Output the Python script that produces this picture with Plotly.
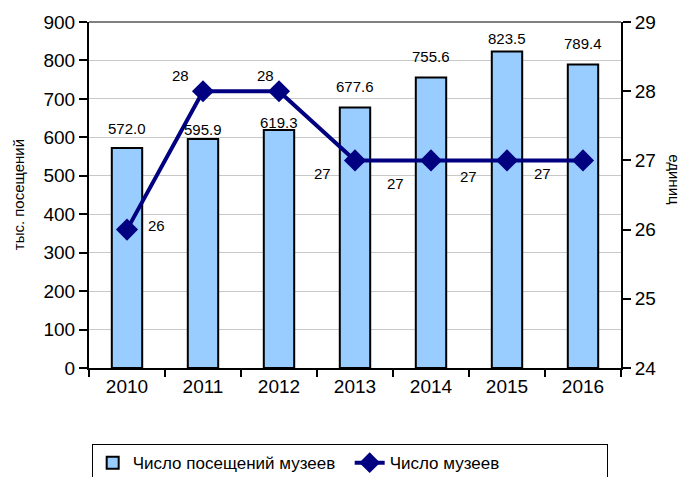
import plotly.graph_objects as go

years = ["2010", "2011", "2012", "2013", "2014", "2015", "2016"]
visits = [572.0, 595.9, 619.3, 677.6, 755.6, 823.5, 789.4]
museums = [26, 28, 28, 27, 27, 27, 27]

visits_name = "Число посещений музеев"
museums_name = "Число музеев"
left_title = "тыс. посещений"
right_title = "единиц"

# label offsets (pixels) - styling only
bar_label_shift = [20, 9, 7, 21, 21, 13, 21]
line_label_dx = [29, -23, -14, -33, -36, -39, -41]
line_label_dy = [-4, -16, -16, 13, 23, 16, 13]

FONT = "Liberation Sans, Arial, sans-serif"

fig = go.Figure()
fig.add_trace(go.Bar(
    x=years, y=visits, name=visits_name, yaxis="y",
    marker=dict(color="#99CCFF", line=dict(color="black", width=2)),
    width=0.4,
))
fig.add_trace(go.Scatter(
    x=years, y=museums, name=museums_name, yaxis="y2",
    mode="lines+markers",
    line=dict(color="#000080", width=4),
    marker=dict(symbol="diamond", size=17, color="#000080"),
))

annotations = []
for i, (v, s) in enumerate(zip(visits, bar_label_shift)):
    annotations.append(dict(x=i, y=v, xref="x", yref="y", text=f"{v:.1f}",
                            showarrow=False, yanchor="middle", yshift=s,
                            font=dict(family=FONT, size=15, color="black")))
for i, (m, dx, dy) in enumerate(zip(museums, line_label_dx, line_label_dy)):
    annotations.append(dict(x=i, y=m, xref="x", yref="y2", text=str(m),
                            showarrow=False, xshift=dx, yshift=-dy,
                            font=dict(family=FONT, size=15, color="black")))
annotations.append(dict(x=-0.133, y=0.5, xref="paper", yref="paper", text=left_title,
                        showarrow=False, textangle=-90, xanchor="center", yanchor="middle",
                        font=dict(family=FONT, size=15, color="black")))
annotations.append(dict(x=1.1, y=0.545, xref="paper", yref="paper", text=right_title,
                        showarrow=False, textangle=90, xanchor="center", yanchor="middle",
                        font=dict(family=FONT, size=15, color="black")))

fig.update_layout(
    width=677, height=469,
    margin=dict(l=81, r=64, t=14, b=109, autoexpand=False),
    paper_bgcolor="white", plot_bgcolor="white",
    font=dict(family=FONT, size=18, color="black"),
    showlegend=True,
    legend=dict(orientation="h", x=0.49, xanchor="center", y=-0.275, yanchor="middle",
                bordercolor="black", borderwidth=1, font=dict(size=17),
                entrywidth=212, traceorder="normal"),
    xaxis=dict(type="category", range=[-0.5, 6.5], showline=True, linecolor="black", linewidth=2,
               ticks="outside", ticklen=7, tickwidth=2, tickcolor="black",
               tickson="boundaries", showgrid=False, tickangle=0,
               tickfont=dict(size=19)),
    yaxis=dict(range=[0, 900], dtick=100, showline=True, linecolor="black", linewidth=2,
               ticks="outside", ticklen=8, tickwidth=2, tickcolor="black",
               showgrid=True, gridcolor="#C8C8C8", gridwidth=1, zeroline=False,
               tickfont=dict(size=19), tickformat="d"),
    yaxis2=dict(range=[24, 29], dtick=1, overlaying="y", side="right",
                showline=True, linecolor="black", linewidth=2,
                ticks="outside", ticklen=8, tickwidth=2, tickcolor="black",
                showgrid=False, zeroline=False, tickfont=dict(size=19)),
    annotations=annotations,
    shapes=[dict(type="line", xref="paper", yref="paper", x0=0, x1=1, y0=1, y1=1,
                 line=dict(color="#808080", width=2), layer="below")],
)

fig.write_html("out.html")
